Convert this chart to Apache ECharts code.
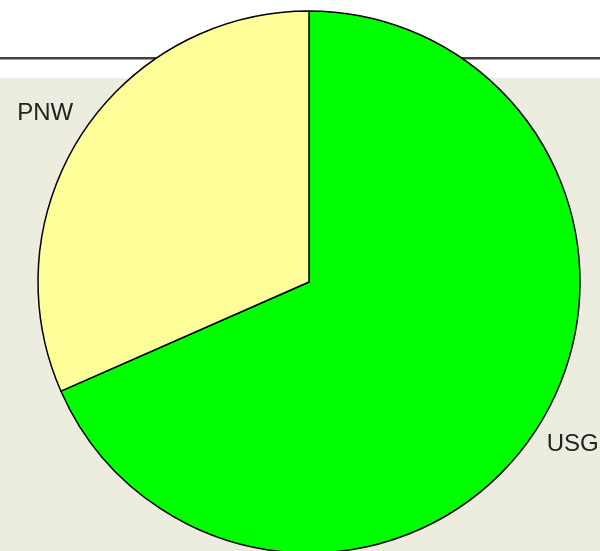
<!DOCTYPE html>
<html>
<head>
<meta charset="utf-8">
<script src="https://cdn.jsdelivr.net/npm/echarts@6/dist/echarts.min.js"></script>
<style>
  html, body { margin: 0; padding: 0; background: #fff; }
  #container { width: 600px; height: 551px; }
</style>
</head>
<body>
<div id="container"></div>
<script>
// slice names and shares (percent), clockwise from the top
var regions = ['USG', 'PNW'];
var shares = [68.4, 31.6];
var sliceColors = ['#00ff00', '#ffff99'];

var myChart = echarts.init(document.getElementById('container'));

// label placement tweaks per slice
var labelTweak = [
    { length: 26, dist: -11 },
    { length: 38, dist: -23 }
];

var pieData = [];
for (var i = 0; i < regions.length; i++) {
    pieData.push({
        name: regions[i],
        value: shares[i],
        itemStyle: { color: sliceColors[i] },
        label: { distanceToLabelLine: labelTweak[i].dist },
        labelLine: { show: false, length: labelTweak[i].length, length2: 0 }
    });
}

var option = {
    animation: false,
    backgroundColor: '#ffffff',
    graphic: [
        {
            type: 'rect',
            z: -10,
            shape: { x: 0, y: 57, width: 600, height: 2.5 },
            style: { fill: '#404040' }
        },
        {
            type: 'rect',
            z: -10,
            shape: { x: 0, y: 78, width: 600, height: 473 },
            style: { fill: '#ededdf' }
        }
    ],
    series: [{
        type: 'pie',
        center: [309, 282],
        radius: 271,
        startAngle: 90,
        clockwise: true,
        avoidLabelOverlap: false,
        silent: true,
        itemStyle: {
            borderColor: '#000000',
            borderWidth: 1.5
        },
        label: {
            show: true,
            position: 'outside',
            formatter: '{b}',
            color: '#222222',
            fontFamily: 'Liberation Sans, Arial, sans-serif',
            fontSize: 24
        },
        emphasis: { disabled: true },
        data: pieData
    }]
};
myChart.setOption(option);
</script>
</body>
</html>
